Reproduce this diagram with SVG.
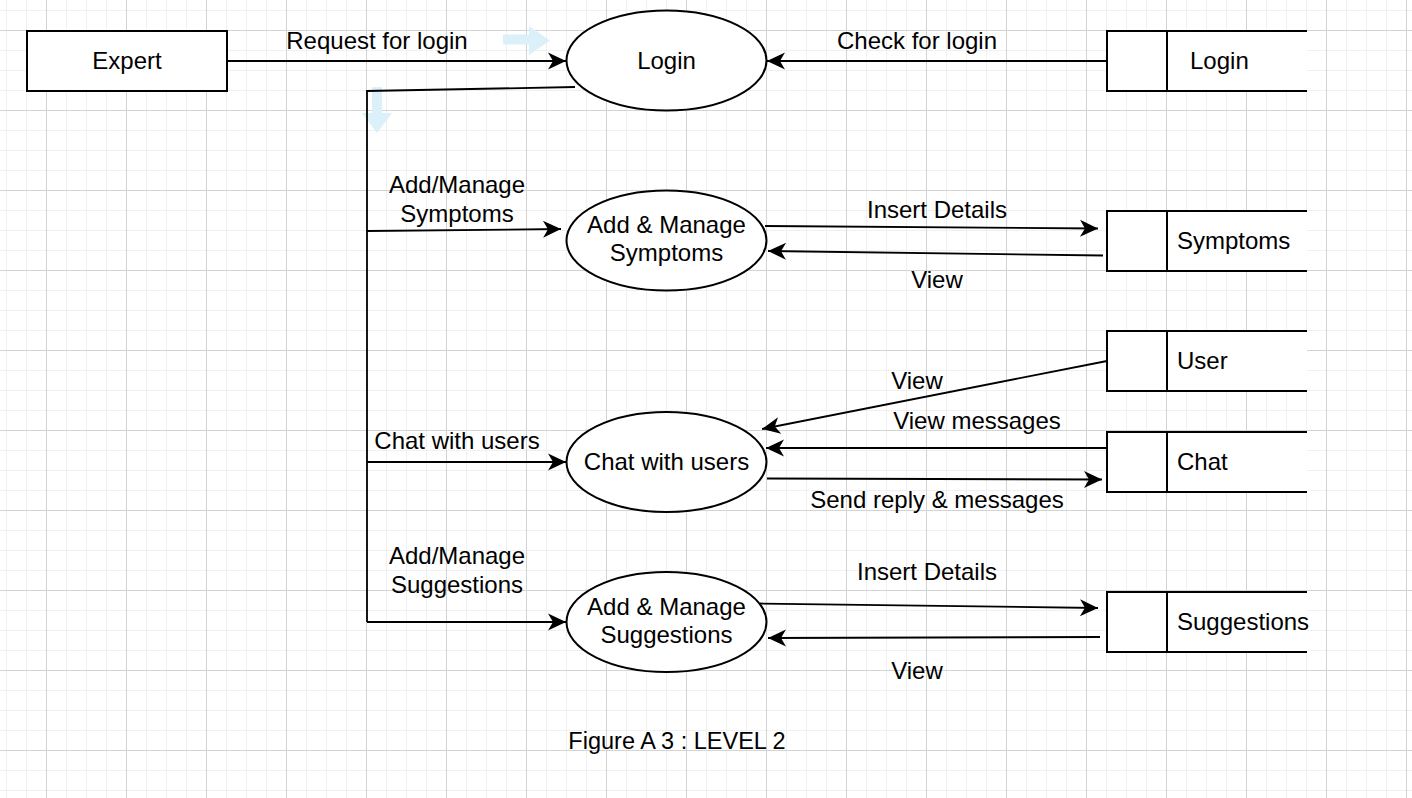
<svg xmlns="http://www.w3.org/2000/svg" width="1412" height="798" viewBox="0 0 1412 798">
<style>
text{font-family:"Liberation Sans",Arial,sans-serif;font-size:24px;fill:#000}
.c{text-anchor:middle}
.box{fill:#fff;stroke:#000;stroke-width:2}
.store{fill:#fff;stroke:none}
.sl{fill:none;stroke:#000;stroke-width:2}
.ln{fill:none;stroke:#000;stroke-width:1.8}
.hint{fill:#dcf0fa}
</style>
<defs>
<pattern id="grid" x="6" y="10" width="80" height="80" patternUnits="userSpaceOnUse">
<path d="M0.5 0V80M20.5 0V80M60.5 0V80M0 0.5H80M0 40.5H80M0 60.5H80" stroke="#f0f0f0" stroke-width="1" fill="none"/>
<path d="M40.5 0V80M0 20.5H80" stroke="#d3d3d3" stroke-width="1" fill="none"/>
</pattern>
<marker id="ah" markerUnits="userSpaceOnUse" markerWidth="20" markerHeight="20" viewBox="-19 -10 20 20" refX="0" refY="0" orient="auto">
<path d="M0 0L-18 -8.5L-13 0L-18 8.5Z" fill="#000"/>
</marker>
</defs>
<rect width="1412" height="798" fill="#fff"/>
<rect width="1412" height="798" fill="url(#grid)"/>

<g id="hints">
<path class="hint" d="M503 34.5H529V26L550 40.5L529 55V44.5H503Z"/>
<path class="hint" d="M372 87H382V113H392L377 133L362 113H372Z"/>
</g>

<g id="connectors">
<path class="ln" d="M227 61H566" marker-end="url(#ah)"/>
<path class="ln" d="M1107 61H767" marker-end="url(#ah)"/>
<path class="ln" d="M575 87L367 91V622"/>
<path class="ln" d="M367 231L561 229" marker-end="url(#ah)"/>
<path class="ln" d="M367 462H566" marker-end="url(#ah)"/>
<path class="ln" d="M367 622H566" marker-end="url(#ah)"/>
<path class="ln" d="M765 226L1098 228.5" marker-end="url(#ah)"/>
<path class="ln" d="M1103 255.5L768 251" marker-end="url(#ah)"/>
<path class="ln" d="M1107 361L762 429" marker-end="url(#ah)"/>
<path class="ln" d="M1107 448H766" marker-end="url(#ah)"/>
<path class="ln" d="M767 478.5L1102 479.5" marker-end="url(#ah)"/>
<path class="ln" d="M760 603.5L1098 608" marker-end="url(#ah)"/>
<path class="ln" d="M1100 637L768 638" marker-end="url(#ah)"/>
<text class="c" x="377" y="49">Request for login</text>
<text class="c" x="917" y="49">Check for login</text>
<text class="c" x="457" y="193">Add/Manage</text>
<text class="c" x="457" y="222">Symptoms</text>
<text class="c" x="937" y="218">Insert Details</text>
<text class="c" x="937" y="288">View</text>
<text class="c" x="917" y="389">View</text>
<text class="c" x="977" y="429">View messages</text>
<text class="c" x="457" y="449">Chat with users</text>
<text class="c" x="937" y="508">Send reply &amp; messages</text>
<text class="c" x="457" y="564">Add/Manage</text>
<text class="c" x="457" y="593">Suggestions</text>
<text class="c" x="927" y="580">Insert Details</text>
<text class="c" x="917" y="679">View</text>
</g>

<g id="expert">
<rect class="box" x="27" y="31" width="200" height="60"/>
<text class="c" x="127" y="69">Expert</text>
</g>

<g id="p-login">
<ellipse class="box" cx="666.5" cy="60.5" rx="100" ry="50"/>
<text class="c" x="666.5" y="69">Login</text>
</g>

<g id="p-symptoms">
<ellipse class="box" cx="666.5" cy="240.5" rx="100" ry="50"/>
<text class="c" x="666.5" y="233">Add &amp; Manage</text>
<text class="c" x="666.5" y="261">Symptoms</text>
</g>

<g id="p-chat">
<ellipse class="box" cx="666.5" cy="462" rx="100" ry="50"/>
<text class="c" x="666.5" y="470">Chat with users</text>
</g>

<g id="p-suggestions">
<ellipse class="box" cx="666.5" cy="622" rx="100" ry="50"/>
<text class="c" x="666.5" y="615">Add &amp; Manage</text>
<text class="c" x="666.5" y="643">Suggestions</text>
</g>

<g id="ds-login">
<rect class="store" x="1107" y="31" width="200" height="60"/>
<path class="sl" d="M1307 31H1107V91H1307M1167 31V91"/>
<text x="1190" y="69">Login</text>
</g>

<g id="ds-symptoms">
<rect class="store" x="1107" y="211" width="200" height="60"/>
<path class="sl" d="M1307 211H1107V271H1307M1167 211V271"/>
<text x="1177" y="249">Symptoms</text>
</g>

<g id="ds-user">
<rect class="store" x="1107" y="331" width="200" height="60"/>
<path class="sl" d="M1307 331H1107V391H1307M1167 331V391"/>
<text x="1177" y="369">User</text>
</g>

<g id="ds-chat">
<rect class="store" x="1107" y="432" width="200" height="60"/>
<path class="sl" d="M1307 432H1107V492H1307M1167 432V492"/>
<text x="1177" y="470">Chat</text>
</g>

<g id="ds-suggestions">
<rect class="store" x="1107" y="592" width="200" height="60"/>
<path class="sl" d="M1307 592H1107V652H1307M1167 592V652"/>
<text x="1177" y="630">Suggestions</text>
</g>

<g id="caption">
<text class="c" x="677" y="749" style="font-size:23.5px">Figure A 3 : LEVEL 2</text>
</g>
</svg>
